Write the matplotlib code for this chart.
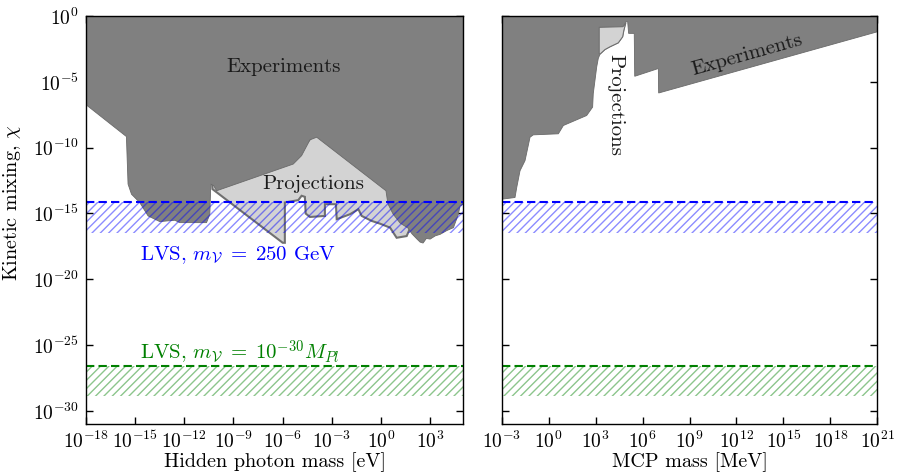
import numpy as np
import matplotlib
matplotlib.use("Agg")
import matplotlib.pyplot as plt

plt.rcParams['font.family'] = 'serif'
plt.rcParams['font.serif'] = ['cmr10', 'DejaVu Serif']
plt.rcParams['mathtext.fontset'] = 'cm'
plt.rcParams['axes.unicode_minus'] = False
plt.rcParams['axes.formatter.use_mathtext'] = True
plt.rcParams['hatch.linewidth'] = 1.0

# ---------------- data (log10 values) ----------------
# Left panel: hidden photon, experiments lower boundary (log10 m [eV], log10 chi)
hp_exp_logm = [-18.0, -15.52, -15.42, -15.21, -14.71, -14.2, -13.49, -12.57, -12.27,
               -10.64, -10.44, -10.38, -10.2, -10.03, -5.36, -4.85, -4.34, -3.93,
               0.29, 0.41, 0.72, 1.15, 1.63, 1.88, 2.18, 2.37, 2.55, 2.75, 2.98,
               3.3, 3.59, 4.0, 4.4, 4.7, 4.8, 5.0]
hp_exp_logchi = [-6.72, -9.16, -12.77, -13.54, -14.17, -15.19, -15.62, -15.52, -15.7,
                 -15.7, -15.06, -12.77, -12.9, -13.28, -11.25, -10.61, -9.41, -9.21,
                 -13.28, -14.27, -15.04, -15.73, -16.11, -16.56, -16.95, -17.18, -17.25,
                 -16.9, -16.95, -16.7, -16.59, -16.3, -16.08, -15.06, -14.43, -14.3]

# Left panel: projections region (log10 m [eV], log10 chi)
hp_proj_logm = [-10.3, -10.28, -6.0, -5.87, -5.87, -5.05, -4.85, -4.65, -4.6, -4.34,
                -3.43, -3.43, -2.76, -2.71, -1.9, -1.39, -1.19, -0.58, -0.07, 0.54,
                0.94, 1.55, 1.8, 1.8, 0.3, -3.93, -5.4, -10.0]
hp_proj_logchi = [-12.75, -13.15, -17.23, -17.23, -14.17, -13.99, -13.66, -13.74, -15.01,
                  -15.27, -15.19, -14.3, -14.3, -15.44, -15.06, -14.68, -15.19, -15.57,
                  -15.78, -16.08, -16.85, -16.72, -16.0, -12.0, -12.5, -8.8, -10.8, -12.9]

# Right panel: millicharged particle, experiments lower boundary (log10 m [MeV], log10 chi)
mcp_exp_logm = [-3.0, -2.15, -2.04, -1.83, -1.51, -1.19, -0.98, 0.62, 0.94, 2.43, 2.81,
                2.85, 3.07, 3.17, 3.28, 3.6, 3.92, 4.45, 4.73, 4.81, 4.94, 5.05, 5.11,
                5.47, 5.5, 7.01, 7.03, 21.0]
mcp_exp_logchi = [-13.92, -13.79, -13.03, -11.76, -10.99, -9.21, -9.03, -8.95, -8.32,
                  -7.56, -6.92, -5.9, -3.87, -3.23, -2.9, -2.55, -2.34, -2.04, -1.58,
                  -1.07, -0.43, -0.43, -1.32, -1.32, -4.58, -3.99, -5.85, -1.2]

# Right panel: projections patch
mcp_proj_logm = [3.23, 3.28, 3.6, 3.92, 4.45, 4.73, 4.81, 4.94, 4.75, 3.23]
mcp_proj_logchi = [-2.85, -2.9, -2.55, -2.34, -2.04, -1.58, -1.07, -0.5, -0.81, -0.86]

# LVS predictions (log10 chi): dashed line and lower edge of band
lvs_tev_top, lvs_tev_bot = -14.17, -16.5
lvs_pl_top, lvs_pl_bot = -26.6, -28.9

hp_xticks = list(range(-18, 4, 3))
mcp_xticks = list(range(-3, 22, 3))
yticks = list(range(0, -31, -5))

# ---------------- figure ----------------
W, H = 897, 473
fig = plt.figure(figsize=(W / 100, H / 100), dpi=100)
axL = fig.add_axes([85.7 / W, 1 - 424 / H, (463.3 - 85.7) / W, (424 - 16) / H])
axR = fig.add_axes([501.7 / W, 1 - 424 / H, (877.3 - 501.7) / W, (424 - 16) / H])

def p(v):
    return 10.0 ** np.asarray(v, dtype=float)

DARK = '#808080'
LIGHT = '#d3d3d3'
EDGE = '#707070'
TXT = '#1a1a1a'
FS = 14
FSA = 15

for ax in (axL, axR):
    ax.set_xscale('log')
    ax.set_yscale('log')
    ax.set_ylim(1e-31, 1.0)

axL.set_xlim(1e-18, 1e5)
axR.set_xlim(1e-3, 1e21)

# Left panel regions
xs = list(p(hp_proj_logm)); ys = list(p(hp_proj_logchi))
axL.fill(xs, ys, facecolor=LIGHT, edgecolor=EDGE, lw=1.5, zorder=1)
xs = list(p(hp_exp_logm)) + [1e6, 1e-19, 1e-19]
ys = list(p(hp_exp_logchi)) + [10.0, 10.0, p(hp_exp_logchi[0])]
axL.fill(xs, ys, facecolor=DARK, edgecolor='#6a6a6a', lw=0.6, zorder=2)

# Right panel regions
xs = list(p(mcp_exp_logm)) + [1e22, 1e22, 1e-4, 1e-4]
ys = list(p(mcp_exp_logchi)) + [p(mcp_exp_logchi[-1]), 10.0, 10.0, p(mcp_exp_logchi[0])]
axR.fill(xs, ys, facecolor=DARK, edgecolor='#6a6a6a', lw=0.6, zorder=2)
axR.fill(p(mcp_proj_logm), p(mcp_proj_logchi), facecolor=LIGHT, edgecolor=EDGE, lw=0.8, zorder=3)

# LVS bands
for ax in (axL, axR):
    x0, x1 = ax.get_xlim()
    ax.fill_between([x0, x1], p(lvs_tev_bot), p(lvs_tev_top), facecolor='none',
                    edgecolor=(0, 0, 1, 0.45), hatch='////', lw=0, zorder=4)
    ax.fill_between([x0, x1], p(lvs_pl_bot), p(lvs_pl_top), facecolor='none',
                    edgecolor=(0, 0.5, 0, 0.45), hatch='////', lw=0, zorder=4)
    ax.axhline(p(lvs_tev_top), color='blue', lw=1.5, ls=(0, (4, 2)), zorder=5)
    ax.axhline(p(lvs_pl_top), color='green', lw=1.5, ls=(0, (4, 2)), zorder=5)
    ax.set_xlim(x0, x1)

# ticks
axL.set_xticks(p(hp_xticks))
axR.set_xticks(p(mcp_xticks))
for ax in (axL, axR):
    ax.set_yticks(p(yticks))
    ax.minorticks_off()
    ax.tick_params(which='both', direction='in', top=True, right=True,
                   length=4.8, width=1.0, labelsize=FS, pad=5)
    for s in ax.spines.values():
        s.set_linewidth(1.0)
        s.set_zorder(10)
axR.tick_params(labelleft=False)

axL.set_xlabel('Hidden photon mass [eV]', fontsize=14.5, labelpad=0)
axR.set_xlabel('MCP mass [MeV]', fontsize=14.5, labelpad=0)
fig.text(12 / W, 1 - 203 / H, r'Kinetic mixing, $\chi$', rotation=90, ha='center',
         va='center', fontsize=14.5)

# annotations
axL.text(p(-5.93), p(-3.85), 'Experiments', fontsize=FSA, color=TXT, ha='center', va='center', zorder=6)
axL.text(p(-4.16), p(-12.76), 'Projections', fontsize=FSA, color=TXT, ha='center', va='center', zorder=6)
axL.text(p(-14.7), p(-18.2), r'LVS, $m_{\mathcal{V}}\;=\;250$ GeV', fontsize=FSA, color='blue',
         ha='left', va='center', zorder=6)
axL.text(p(-14.7), p(-25.57), r'LVS, $m_{\mathcal{V}}\;=\;10^{-30} M_{Pl}$', fontsize=FSA, color='green',
         ha='left', va='center', zorder=6)
axR.text(p(12.65), p(-2.97), 'Experiments', fontsize=FSA, color=TXT, ha='center', va='center',
         rotation=15.6, rotation_mode='anchor', zorder=6)
axR.text(p(4.26), p(-6.78), 'Projections', fontsize=FSA, color=TXT, ha='center', va='center',
         rotation=270, zorder=6)

fig.savefig('out.png', dpi=100)
